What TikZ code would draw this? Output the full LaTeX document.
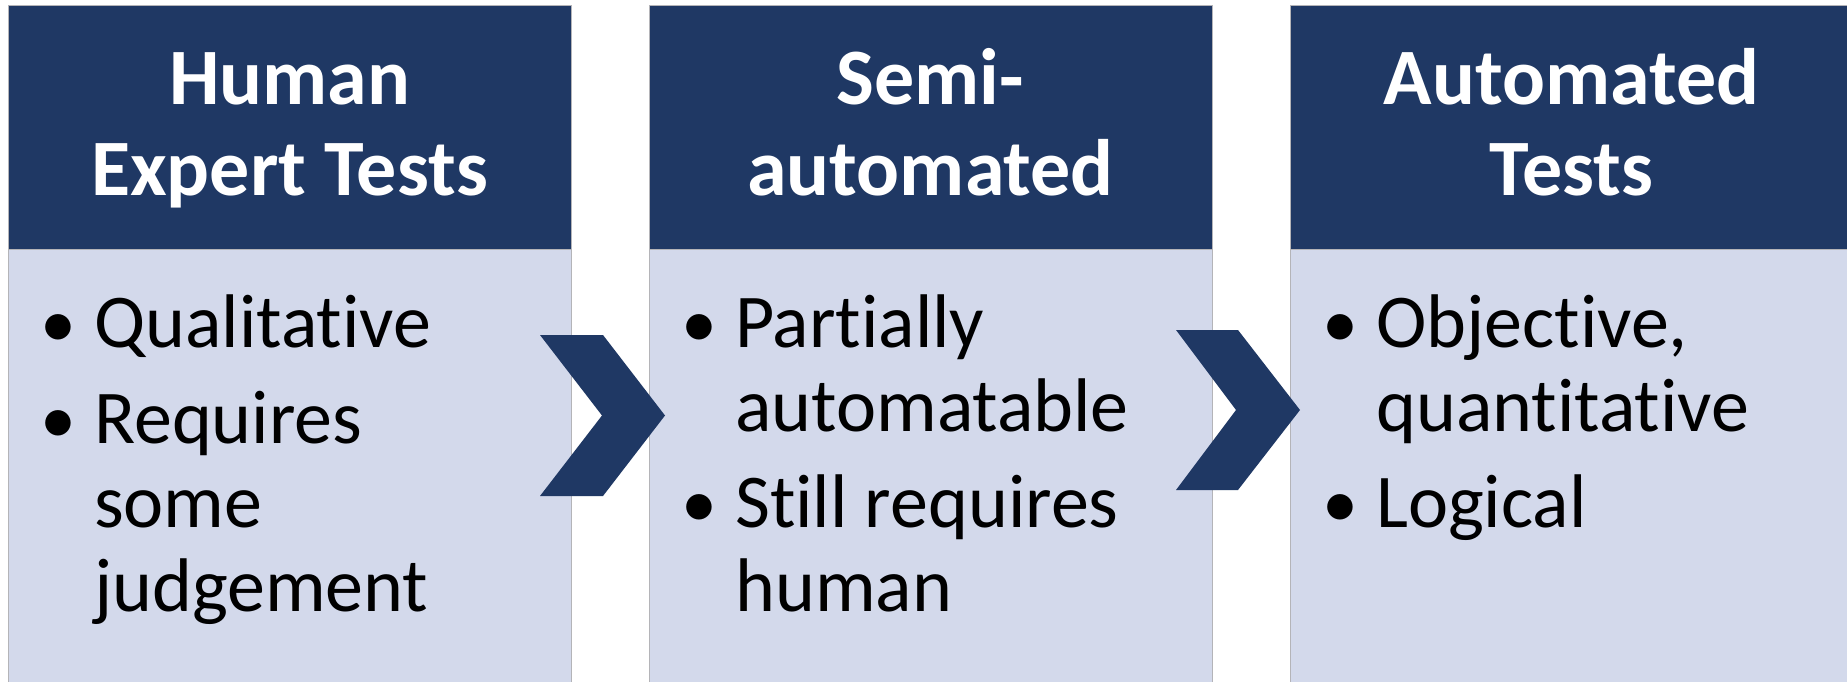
\documentclass[tikz,border=0pt]{standalone}
\usepackage{fontspec}
\setmainfont{Carlito}[Ligatures={NoCommon}]
\definecolor{navy}{HTML}{1F3864}
\definecolor{lav}{HTML}{D3D9EB}
\definecolor{edge}{HTML}{B4B4B8}
\begin{document}
\begin{tikzpicture}[x=1pt,y=-1pt,
  hdr/.style={draw=edge,line width=1.3pt,fill=navy,rectangle,inner sep=0,anchor=north west,minimum width=563pt,minimum height=244pt},
  bdy/.style={draw=edge,line width=1.3pt,fill=lav,rectangle,inner sep=0,anchor=north west,minimum width=563pt,minimum height=450pt},
  htxt/.style={text=white,font=\fontsize{80}{90}\selectfont\bfseries,inner sep=0,anchor=base},
  btxt/.style={text=black,font=\fontsize{76}{84}\selectfont,inner sep=0,anchor=base west},
  bul/.style={text=black,font=\fontsize{72}{84}\selectfont,inner sep=0,anchor=base},
  chev/.style={fill=navy,draw=none}]
\useasboundingbox (0,0) rectangle (1847,682);
\clip (0,0) rectangle (1847,682);
\fill[white] (0,0) rectangle (1847,682);
% columns
\node[bdy] (b1) at (8,249) {};
\node[bdy] (b2) at (649,249) {};
\node[bdy] (b3) at (1290,249) {};
\node[hdr] (h1) at (8,5) {};
\node[hdr] (h2) at (649,5) {};
\node[hdr] (h3) at (1290,5) {};
% header texts
\node[htxt] (h1a) at (289.5,105) {Human};
\node[htxt] (h1b) at (289.5,195) {Expert Tests};
\node[htxt] (h2a) at (930.5,105) {Semi-};
\node[htxt] (h2b) at (930.5,195) {automated};
\node[htxt] (h3a) at (1571.5,105) {Automated};
\node[htxt] (h3b) at (1571.5,195) {Tests};
% column 1 bullets
\node[bul] (u1a) at (58,347) {•};
\node[btxt] (t1a) at (94,347) {Qualitative};
\node[bul] (u1b) at (58,443) {•};
\node[btxt] (t1b) at (94,443) {Requires};
\node[btxt] (t1c) at (94,527) {some};
\node[btxt] (t1d) at (94,611) {judgement};
% column 2 bullets
\node[bul] (u2a) at (699,347) {•};
\node[btxt] (t2a) at (735,347) {Partially};
\node[btxt] (t2b) at (735,431) {automatable};
\node[bul] (u2b) at (699,527) {•};
\node[btxt] (t2c) at (735,527) {Still requires};
\node[btxt] (t2d) at (735,611) {human};
% column 3 bullets
\node[bul] (u3a) at (1340,347) {•};
\node[btxt] (t3a) at (1376,347) {Objective,};
\node[btxt] (t3b) at (1376,431) {quantitative};
\node[bul] (u3b) at (1340,527) {•};
\node[btxt] (t3c) at (1376,527) {Logical};
% chevrons
\fill[chev] (540,335) -- (603,335) -- (665,415.5) -- (603,496) -- (540,496) -- (602,415.5) -- cycle;
\fill[chev] (1176,330) -- (1238,330) -- (1300,410) -- (1238,490) -- (1176,490) -- (1236,410) -- cycle;
\end{tikzpicture}
\end{document}
